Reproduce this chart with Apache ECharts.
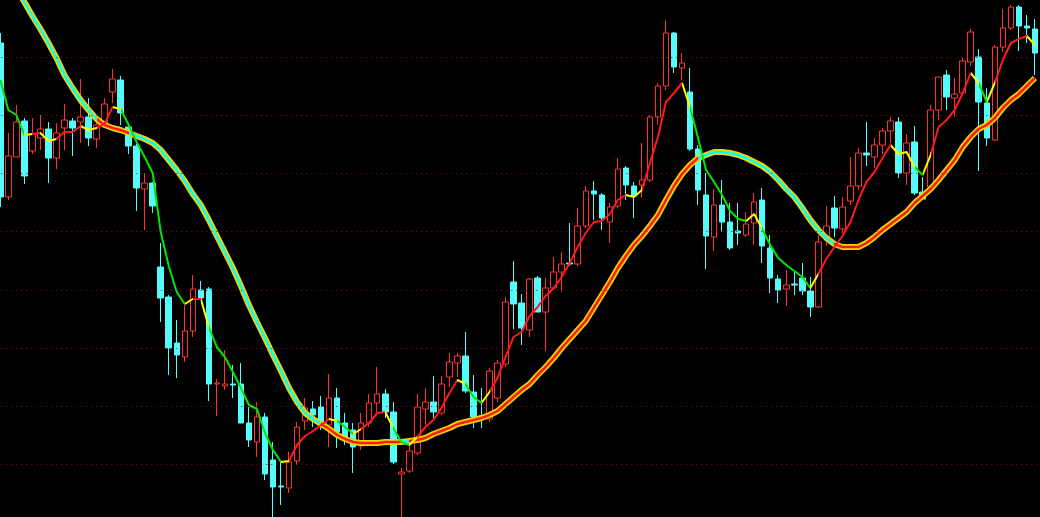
<!DOCTYPE html>
<html>
<head>
<meta charset="utf-8">
<script src="https://cdn.jsdelivr.net/npm/echarts@6/dist/echarts.min.js"></script>
<style>
html,body{margin:0;padding:0;background:#000;}
#chart{width:1040px;height:517px;background:#000;}
</style>
</head>
<body>
<div id="chart"></div>
<script>
// ---- data (price values) ----
const opens = [
  5.37,3.83,4.23,4.59,4.29,4.42,4.51,4.22,4.52,4.59,
  4.58,4.63,4.41,4.57,4.88,5.00,4.53,4.34,3.91,3.97,
  3.13,2.83,2.37,2.23,2.49,2.90,2.91,1.96,1.94,1.96,
  1.96,1.57,1.38,1.63,1.20,0.94,0.92,1.19,1.59,1.71,
  1.73,1.55,1.82,1.57,1.50,1.34,1.57,1.77,1.86,1.68,
  1.06,1.09,1.27,1.71,1.78,1.67,2.03,2.17,2.24,1.88,
  1.64,1.61,1.82,2.16,2.98,2.77,2.50,3.02,2.68,2.92,
  3.08,3.17,3.16,3.54,3.89,3.85,3.58,3.74,4.12,3.94,
  3.95,4.00,4.63,4.94,5.47,5.12,4.88,4.31,3.85,3.43,
  3.75,3.58,3.49,3.45,3.57,3.80,3.32,3.01,2.91,2.96,
  3.02,2.89,2.73,3.43,3.72,3.51,3.79,3.94,4.27,4.23,
  4.35,4.49,4.58,4.07,4.38,3.88,3.93,4.70,5.05,4.82,
  4.87,5.18,5.23,4.77,4.40,5.33,5.52,5.73,5.54,5.51
];
const closes = [
  3.83,4.24,4.58,4.04,4.46,4.51,4.22,4.47,4.60,4.52,
  4.63,4.42,4.55,4.76,5.01,4.67,4.34,3.92,3.97,3.74,
  2.82,2.32,2.25,2.49,2.91,2.82,1.96,1.97,1.96,1.95,
  1.57,1.40,1.63,1.06,0.93,0.93,1.18,1.53,1.72,1.65,
  1.55,1.82,1.48,1.40,1.33,1.57,1.77,1.86,1.68,1.18,
  1.08,1.29,1.73,1.78,1.68,1.96,2.18,2.24,1.89,1.63,
  1.62,2.09,2.17,2.78,2.76,2.52,3.01,2.68,2.92,3.08,
  3.16,3.16,3.54,3.89,3.86,3.62,3.73,4.11,3.95,3.84,
  4.00,4.63,4.94,5.47,5.13,5.17,4.31,3.90,3.44,3.75,
  3.58,3.32,3.47,3.56,3.78,3.34,3.02,2.90,2.95,2.95,
  2.89,2.73,3.38,3.54,3.52,3.73,3.94,4.27,4.25,4.35,
  4.49,4.59,4.07,4.37,3.87,3.81,4.70,5.03,4.83,4.86,
  5.19,5.48,4.78,4.42,5.33,5.52,5.73,5.54,5.52,5.27
];
const lows = [
  3.73,3.80,4.23,3.96,4.26,4.30,3.97,4.11,4.30,4.24,
  4.37,4.34,4.32,4.54,4.77,4.55,4.26,3.69,3.50,3.67,
  2.58,2.05,2.02,2.18,2.43,2.81,1.79,1.64,1.90,1.82,
  1.57,1.33,1.23,1.00,0.63,0.75,0.87,1.15,1.50,1.53,
  1.50,1.33,1.32,1.35,1.07,1.30,1.53,1.68,1.62,1.16,
  0.63,1.07,1.25,1.55,1.62,1.65,1.93,2.03,1.87,1.52,
  1.52,1.58,1.78,2.13,2.51,2.35,2.43,2.68,2.29,2.90,
  2.88,3.14,3.14,3.52,3.60,3.50,3.37,3.72,3.80,3.62,
  3.82,3.98,4.55,4.90,5.07,5.00,4.29,3.75,3.11,3.29,
  3.48,3.30,3.35,3.43,3.35,3.17,2.87,2.77,2.74,2.85,
  2.85,2.63,2.72,3.34,3.43,3.47,3.75,3.90,4.14,4.12,
  4.26,4.37,4.02,3.95,3.85,3.80,3.91,4.60,4.70,4.63,
  4.85,5.14,4.09,4.34,4.39,5.28,5.50,5.29,5.37,5.05
];
const highs = [
  5.47,4.47,4.75,4.62,4.62,4.65,4.58,4.57,4.76,4.62,
  5.01,4.82,4.59,4.82,5.11,5.04,4.57,4.36,4.07,3.98,
  3.37,2.85,2.60,2.75,3.05,2.99,2.93,2.01,2.30,2.15,
  2.17,1.73,1.78,1.67,1.38,1.18,1.28,1.58,1.82,1.79,
  1.84,2.06,1.92,1.67,1.57,1.67,1.86,2.13,1.91,1.78,
  1.12,1.35,1.86,1.92,2.04,2.04,2.27,2.27,2.48,2.05,
  1.92,2.12,2.20,2.83,3.19,2.86,3.02,3.04,3.02,3.23,
  3.28,3.57,3.72,3.94,3.99,3.87,3.77,4.22,4.14,3.98,
  4.37,4.65,4.97,5.60,5.48,5.27,5.12,4.35,4.07,3.91,
  4.00,3.77,3.77,3.68,3.87,3.92,3.45,3.05,3.10,3.08,
  3.17,3.03,3.45,3.74,3.84,3.83,4.23,4.32,4.58,4.42,
  4.52,4.63,4.63,4.46,4.54,4.03,4.75,5.03,5.10,5.02,
  5.22,5.51,5.31,4.92,5.35,5.71,5.75,5.75,5.65,5.61
];
const fastLine = [
  5.00,4.70,4.65,4.45,4.46,4.47,4.39,4.41,4.48,4.48,
  4.54,4.50,4.52,4.56,4.73,4.71,4.55,4.38,4.23,4.07,
  3.48,3.14,2.88,2.76,2.81,2.81,2.53,2.33,2.23,2.08,
  1.92,1.75,1.71,1.47,1.30,1.18,1.19,1.35,1.44,1.49,
  1.55,1.61,1.59,1.53,1.46,1.51,1.57,1.67,1.68,1.52,
  1.38,1.35,1.43,1.53,1.60,1.72,1.87,2.00,1.96,1.83,
  1.77,1.88,2.02,2.23,2.43,2.48,2.64,2.73,2.84,2.92,
  3.03,3.17,3.33,3.47,3.58,3.59,3.66,3.80,3.85,3.83,
  3.90,4.17,4.43,4.78,4.87,4.97,4.73,4.42,4.10,3.98,
  3.85,3.69,3.61,3.59,3.66,3.51,3.35,3.22,3.15,3.09,
  3.03,2.92,3.06,3.21,3.33,3.44,3.58,3.80,3.98,4.08,
  4.22,4.35,4.26,4.28,4.13,4.05,4.25,4.53,4.60,4.70,
  4.87,5.07,4.97,4.78,4.97,5.20,5.37,5.41,5.44,5.35
];
const slowLine = [
  6.20,6.05,5.91,5.78,5.64,5.51,5.37,5.22,5.05,4.92,
  4.80,4.70,4.61,4.55,4.52,4.50,4.47,4.44,4.41,4.37,
  4.30,4.20,4.10,3.99,3.86,3.75,3.60,3.44,3.28,3.12,
  2.94,2.75,2.58,2.42,2.25,2.09,1.92,1.78,1.67,1.61,
  1.56,1.51,1.45,1.41,1.38,1.37,1.37,1.37,1.38,1.38,
  1.38,1.39,1.40,1.42,1.46,1.49,1.52,1.56,1.58,1.60,
  1.62,1.65,1.69,1.76,1.83,1.90,1.96,2.05,2.13,2.22,
  2.32,2.41,2.50,2.59,2.72,2.85,2.98,3.12,3.24,3.35,
  3.44,3.54,3.65,3.80,3.94,4.06,4.15,4.22,4.25,4.28,
  4.28,4.27,4.25,4.22,4.18,4.14,4.08,4.00,3.91,3.83,
  3.72,3.60,3.50,3.42,3.36,3.33,3.33,3.33,3.37,3.43,
  3.50,3.56,3.62,3.68,3.77,3.84,3.91,4.00,4.10,4.20,
  4.33,4.43,4.51,4.55,4.62,4.72,4.80,4.86,4.94,5.02
];
const categories = opens.map((_, i) => String(i + 1));
// horizontal dotted guide levels
const gridLevels = [1.162, 1.743, 2.324, 2.905, 3.486, 4.067, 4.648, 5.229];
const yMin = 0.63, yMax = 5.80;

// ---- colours ----
const UP = '#ff3232', DOWN = '#54fcfc';
const RED = '#ff1a1a', GREEN = '#00e600', YELLOW = '#ffff00', CYAN = '#00ffff';

const n = categories.length;
const candleData = opens.map((o, i) => [o, closes[i], lows[i], highs[i]]);

// fast line: red rising, green falling, yellow on the first segment after a turn
const fastSeg = new Array(n).fill(null);
let prevDir = -1;
for (let i = 1; i < n; i++) {
  let d = Math.sign(fastLine[i] - fastLine[i - 1]);
  if (d === 0) d = prevDir;
  fastSeg[i] = (i > 1 && d !== prevDir) ? YELLOW : (d > 0 ? RED : GREEN);
  prevDir = d;
}
// slow line: red while the fast line is above it, cyan otherwise
const slowSeg = new Array(n).fill(null);
for (let i = 1; i < n; i++) slowSeg[i] = fastLine[i] >= slowLine[i] ? RED : CYAN;

function toPieces(seg) {
  const pieces = [];
  let start = 1;
  for (let i = 2; i <= n; i++) {
    if (i === n || seg[i] !== seg[start]) {
      pieces.push({ gt: start === 1 ? -1 : start - 1, lte: i === n ? n : i - 1, color: seg[start] });
      start = i;
    }
  }
  return pieces;
}

const chart = echarts.init(document.getElementById('chart'), null, { renderer: 'canvas' });
chart.setOption({
  backgroundColor: '#000',
  animation: false,
  grid: { left: -3.7, width: 1042.6, top: 0, height: 517, outerBoundsMode: 'none', containLabel: false },
  xAxis: {
    type: 'category', data: categories, boundaryGap: true,
    axisLine: { show: false }, axisTick: { show: false }, axisLabel: { show: false },
    splitLine: { show: false }
  },
  yAxis: {
    type: 'value', min: yMin, max: yMax, scale: true,
    axisLine: { show: false }, axisTick: { show: false }, axisLabel: { show: false },
    splitLine: { show: false }
  },
  visualMap: [
    { type: 'piecewise', show: false, dimension: 0, seriesIndex: 3, pieces: toPieces(slowSeg) },
    { type: 'piecewise', show: false, dimension: 0, seriesIndex: 4, pieces: toPieces(fastSeg) }
  ],
  series: [
    {
      type: 'line', data: [], z: 1, silent: true, symbol: 'none',
      markLine: {
        silent: true, symbol: ['none', 'none'], label: { show: false },
        lineStyle: { color: '#8a0f0f', width: 1, type: [1, 4] },
        data: gridLevels.map(v => ({ yAxis: v }))
      }
    },
    {
      type: 'candlestick', data: candleData, barWidth: 6, z: 2,
      itemStyle: { color: '#000000', color0: DOWN, borderColor: UP, borderColor0: DOWN, borderWidth: 1 }
    },
    {
      type: 'line', data: slowLine, symbol: 'none', silent: true, z: 3,
      lineStyle: { color: '#f0d400', width: 6 }
    },
    {
      type: 'line', data: slowLine, symbol: 'none', silent: true, z: 4,
      lineStyle: { width: 2.5 }
    },
    {
      type: 'line', data: fastLine, symbol: 'none', silent: true, z: 5,
      lineStyle: { width: 2 }
    }
  ]
});
</script>
</body>
</html>
